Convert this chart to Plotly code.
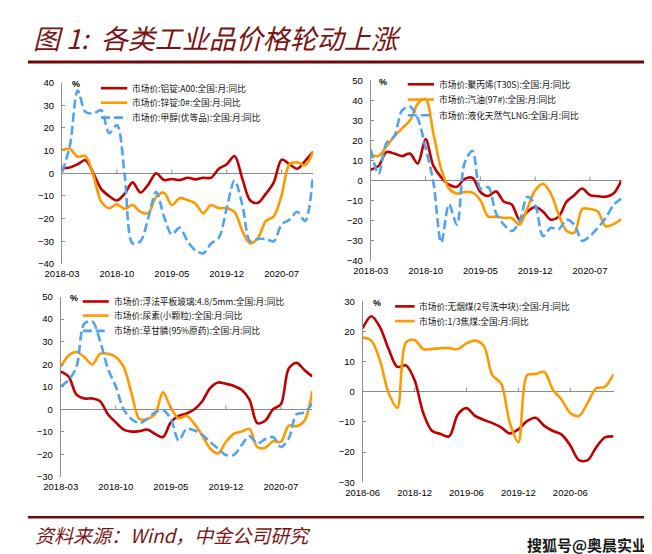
import plotly.graph_objects as go

W, H = 652, 554

def months(y0, m0, n):
    out = []
    y, m = y0, m0
    for _ in range(n):
        out.append(f"{y}-{m:02d}")
        m += 1
        if m > 12:
            m = 1
            y += 1
    return out

# ---------------- data ----------------
months_a = months(2018, 3, 33)   # 2018-03 .. 2020-11
months_b = months(2018, 6, 30)   # 2018-06 .. 2020-11

ticks_a = ["2018-03", "2018-10", "2019-05", "2019-12", "2020-07"]
ticks_b = ["2018-06", "2018-12", "2019-06", "2019-12", "2020-06"]

# panel 1
aluminium = [2.2, 2.5, 4, 5.8, 0, -7, -10, -12, -9, -4, -8.5, -5, 0, -3, -2.5, -3, -2, -2.7, -2, -2,
             2, 4, 7.6, -2.5, -12, -13, -9, -4, 6, 4, 2, 5.5, 9.5]
zinc = [10.2, 10.8, 7.3, 7.6, -1, -12.5, -15.4, -13.7, -15.7, -14, -17, -17.6, -10.4, -8.6, -14, -11,
        -11.8, -13.3, -17.6, -14, -15.4, -15.4, -17, -25.5, -31, -28.4, -21, -19, -9.7, 4, 4.8, 3.6, 9.4]
methanol = [0.4, 12, 36.5, 27, 26.4, 27.8, 17.7, 21.3, -1, -31, -30, -19.7, -8.2, -19, -27, -24, -30,
            -34, -35.3, -31, -28.4, -15.4, -3.2, -14, -30, -29, -29, -30, -22.6, -20.5, -17, -21, -0.7]

# panel 2
polypropylene = [5.4, 7.3, 14.2, 13.5, 12.2, 13.5, 8.5, 20.7, 7.3, 1.6, -2.1, -3.1, 0.8, 1.3, -5.7, -7.7,
                 -5.4, -10.6, -11.9, -19.5, -15.5, -13.2, -15.5, -19.5, -18, -10.6, -7.3, -4, -7.3,
                 -7.8, -8.1, -6.5, 0]
gasoline = [13, 12.2, 17, 22, 26, 30, 38.3, 40.7, 23.5, 5.7, -4, -6.5, -5.7, -6, -9.8, -18, -18, -18.7,
            -18.7, -22, -13.8, -4.9, -1.6, -6.5, -17, -25, -26, -14.2, -14.2, -15.5, -22.8, -21.7, -19.2]
lng = [15.5, 3.3, 18.7, 22, 35, 37, 31, 16.3, -0.8, -31, -11.9, -22, 9, 14.7, -4, -3.3, -16.3, -22,
       -25.2, -20.4, -8.1, -12.2, -27.7, -23.6, -24.4, -19.5, -22, -30.1, -27.7, -23.6, -18.7, -12.2, -9]

# panel 3
glass = [16.7, 14.5, 6.5, 4.8, 4.8, 3.6, -2.2, -5.8, -9, -9.9, -9.7, -9, -10.9, -12.3, -5.8, -2.9, -1.9,
         0, 3.6, 9.4, 11.9, 11.3, 10.4, 8.7, 4.3, -6.1, -5.1, 0, 2.2, 18.1, 20.6, 17.4, 14.5]
urea = [18.8, 23.9, 25.4, 23.2, 19.9, 24.6, 24.6, 23.2, 18.8, 7.2, -4.3, -4.3, -2.2, 7.5, 0.7, -4, -2.9,
        -6.5, -11.6, -17.4, -19.6, -14.5, -10.9, -9.9, -8.7, -16.7, -17.1, -14.2, -14.5, -7.2, -7.5,
        -5.1, 8]
glyphosate = [10.1, 13, 18.8, 38, 39, 30.4, 18, 10.1, 0, -4.3, -6.2, -4.3, -1.4, -0.3, -4.3, -13.8, -8.7,
              -9.4, -11.3, -14.5, -17.4, -20.3, -20.3, -15.9, -11.9, -15.2, -13.3, -12.3, -16.7, -13,
              -2.2, -1.4, 2.6]

# panel 4
anthracite = [21.1, 25.1, 21.5, 14.2, 8.3, 8.8, 3.9, -7, -12.9, -14, -14.8, -7.5, -5.4, -8, -9.3, -10.4,
              -11.8, -13.8, -12.4, -9.7, -8.6, -11.3, -13, -14.2, -17.8, -22.7, -22.7, -18.4, -15.1, -14.8]
coking_coal = [18, 17, 10.4, -0.4, -5.3, 16.4, 17.2, 14.2, 14.2, 14.5, 14.5, 14.2, 16.1, 17, 15.3, 5.5,
               2.8, -10.2, -16.7, 5.5, 5.9, 6.6, 0.7, -2.6, -7, -8, -3.7, 1.2, 1.7, 5.9]

RED, ORANGE, BLUE = "#C00000", "#FF9900", "#4FA3F0"
TITLE_COLOR = "#7A1414"
GRID = "#8C8C8C"
CJK = "Noto Sans CJK SC"
LAT = "Liberation Sans, Arial"
DASH = "9px,4px"

panels = [
    dict(x=months_a, ticks=ticks_a, yr=[-40, 40],
         dom_x=(38, 295.7), dom_y=(70, 255),
         series=[("市场价:铝锭:A00:全国:月:同比", aluminium, RED, "solid"),
                 ("市场价:锌锭:0#:全国:月:同比", zinc, ORANGE, "solid"),
                 ("市场价:甲醇(优等品):全国:月:同比", methanol, BLUE, DASH)],
         leg_y=[75.7, 90.5, 105.7], leg_x=(78, 105), pct=(52, 71)),
    dict(x=months_a, ticks=ticks_a, yr=[-40, 50],
         dom_x=(355, 612.3), dom_y=(67.7, 251.7),
         series=[("市场价:聚丙烯(T30S):全国:月:同比", polypropylene, RED, "solid"),
                 ("市场价:汽油(97#):全国:月:同比", gasoline, ORANGE, "solid"),
                 ("市场价:液化天然气LNG:全国:月:同比", lng, BLUE, DASH)],
         leg_y=[71.7, 87.3, 103.3], leg_x=(393, 420), pct=(368, 69)),
    dict(x=months_a, ticks=ticks_a, yr=[-30, 50],
         dom_x=(36.7, 295), dom_y=(288.3, 472.3),
         series=[("市场价:浮法平板玻璃:4.8/5mm:全国:月:同比", glass, RED, "solid"),
                 ("市场价:尿素(小颗粒):全国:月:同比", urea, ORANGE, "solid"),
                 ("市场价:草甘膦(95%原药):全国:月:同比", glyphosate, BLUE, DASH)],
         leg_y=[293.3, 307.7, 323.3], leg_x=(59.3, 86), pct=(50.5, 290)),
    dict(x=months_b, ticks=ticks_b, yr=[-30, 30],
         dom_x=(346.7, 604.3), dom_y=(293.3, 477.7),
         series=[("市场价:无烟煤(2号洗中块):全国:月:同比", anthracite, RED, "solid"),
                 ("市场价:1/3焦煤:全国:月:同比", coking_coal, ORANGE, "solid")],
         leg_y=[298.3, 313.3], leg_x=(380, 400), pct=(361, 295)),
]

def px(x):
    return x / W

def py(y):
    return 1 - y / H

fig = go.Figure()
shapes = []
annotations = []
layout = {}

for i, p in enumerate(panels):
    k = "" if i == 0 else str(i + 1)
    xa, ya = "x" + k, "y" + k
    for name, vals, color, dash in p["series"]:
        fig.add_trace(go.Scatter(
            x=p["x"], y=vals, name=name, mode="lines", xaxis=xa, yaxis=ya,
            line=dict(color=color, width=2.6, dash=dash, shape="spline", smoothing=0.9),
            showlegend=False, hoverinfo="x+y"))
    layout["xaxis" + k] = dict(
        domain=[px(p["dom_x"][0]), px(p["dom_x"][1])], anchor=ya, type="category",
        categoryorder="array", categoryarray=p["x"],
        range=[0, len(p["x"]) - 1], tickmode="array", tickvals=p["ticks"], ticktext=p["ticks"],
        showline=False, showgrid=False, zeroline=False, ticks="", ticklabelstandoff=3,
        tickfont=dict(family=LAT, size=9.5, color="#000"), fixedrange=True)
    layout["yaxis" + k] = dict(
        domain=[py(p["dom_y"][1]), py(p["dom_y"][0])], anchor=xa, range=p["yr"], dtick=10,
        showline=True, linecolor=GRID, linewidth=1, showgrid=False,
        zeroline=True, zerolinecolor=GRID, zerolinewidth=1.3,
        ticks="inside", ticklen=3, tickcolor=GRID, ticklabelstandoff=5,
        tickfont=dict(family=LAT, size=9.5, color="#000"), fixedrange=True)
    # small tick marks on the zero axis
    for t in p["ticks"][1:]:
        shapes.append(dict(type="line", xref=xa, yref=ya, x0=t, x1=t, ysizemode="pixel",
                           yanchor=0, y0=0, y1=4, line=dict(color=GRID, width=1)))
    # manual legend
    for (name, vals, color, dash), ly in zip(p["series"], p["leg_y"]):
        shapes.append(dict(type="line", xref="paper", yref="paper",
                           x0=px(p["leg_x"][0]), x1=px(p["leg_x"][1]), y0=py(ly), y1=py(ly),
                           line=dict(color=color, width=2.6, dash=dash)))
        annotations.append(dict(xref="paper", yref="paper", x=px(p["leg_x"][1] + 3), y=py(ly),
                                xanchor="left", yanchor="middle", showarrow=False, text=name,
                                font=dict(family=CJK, size=8.7, color="#111")))
    annotations.append(dict(xref="paper", yref="paper", x=px(p["pct"][0]), y=py(p["pct"][1]),
                            xanchor="center", yanchor="middle", showarrow=False, text="<b>%</b>",
                            font=dict(family=LAT, size=9, color="#000")))

# title, footer, rules
annotations.append(dict(xref="paper", yref="paper", x=px(6), y=py(24), xanchor="left", yanchor="middle",
                        showarrow=False, text="图 1:  各类工业品价格轮动上涨",
                        font=dict(family=CJK, size=27, color=TITLE_COLOR, style="italic")))
annotations.append(dict(xref="paper", yref="paper", x=px(8), y=py(531), xanchor="left", yanchor="middle",
                        showarrow=False, text="资料来源：Wind，中金公司研究",
                        font=dict(family=CJK, size=19, color=TITLE_COLOR, style="italic")))
annotations.append(dict(xref="paper", yref="paper", x=px(641), y=py(541), xanchor="right", yanchor="middle",
                        showarrow=False, text="<b>搜狐号@奥晨实业</b>",
                        font=dict(family=CJK, size=15, color="#1a1a1a")))
shapes.append(dict(type="line", xref="paper", yref="paper", x0=px(3), x1=px(649), y0=py(49), y1=py(49),
                   line=dict(color="#6B0A0A", width=3)))
shapes.append(dict(type="line", xref="paper", yref="paper", x0=px(3), x1=px(649), y0=py(513.5), y1=py(513.5),
                   line=dict(color="#6B0A0A", width=2.5)))

fig.update_layout(width=W, height=H, margin=dict(l=0, r=0, t=0, b=0),
                  paper_bgcolor="white", plot_bgcolor="white",
                  shapes=shapes, annotations=annotations, showlegend=False, **layout)

fig.write_html("out.html", include_plotlyjs=True, config={"displayModeBar": False})
